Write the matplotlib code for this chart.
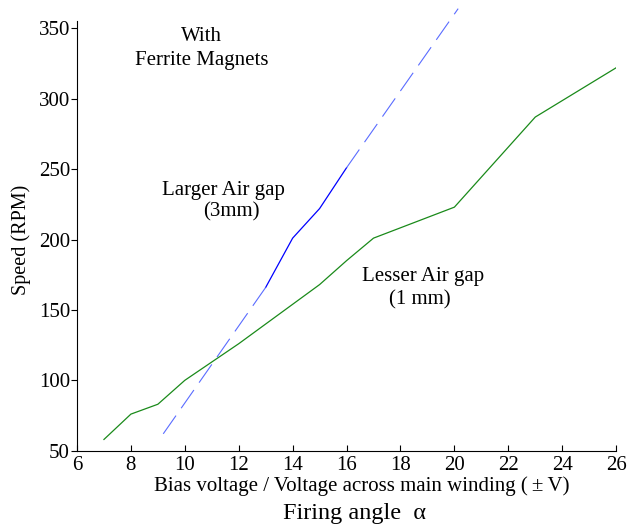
import numpy as np
import matplotlib.pyplot as plt

plt.rcParams['font.family'] = ['Liberation Serif', 'DejaVu Serif']
plt.rcParams['lines.scale_dashes'] = False

# lesser air gap (1 mm)
volts_small_gap = [7, 8, 9, 10, 11, 12, 13, 14, 15, 16, 17, 20, 23, 26]
speed_small_gap = [58, 76, 83, 100, 113, 126, 140, 154, 168, 185, 201, 223, 287, 322]

# larger air gap (3 mm), measured part
volts_large_gap = [13, 14, 15, 16]
speed_large_gap = [166, 201, 222, 251]

# extrapolated parts of the 3 mm curve
volts_ext_low = [9.2, 13]
speed_ext_low = [62, 166]
volts_ext_high = [16, 20.14]
speed_ext_high = [251, 364]

xticks = [6, 8, 10, 12, 14, 16, 18, 20, 22, 24, 26]
yticks = [50, 100, 150, 200, 250, 300, 350]

fig = plt.figure(figsize=(6.28, 5.29), dpi=100)
ax = fig.add_axes([0.1226, 0.148, 0.8585, 0.8117])

ax.plot(volts_small_gap, speed_small_gap, color='#1a8a1a', lw=0.9)
ax.plot(volts_large_gap, speed_large_gap, color='#0000ff', lw=0.9)
for xs, ys in [(volts_ext_low, speed_ext_low), (volts_ext_high, speed_ext_high)]:
    ax.plot(xs, ys, color='#5a6cff', lw=0.8, dashes=(16, 6.5), clip_on=False)

ax.set_xlim(6, 26)
ax.set_ylim(50, 355)
ax.set_xticks(xticks)
ax.set_yticks(yticks)
ax.spines['top'].set_visible(False)
ax.spines['right'].set_visible(False)
ax.tick_params(axis='x', direction='in', length=4, labelsize=15, pad=4)
ax.tick_params(axis='y', direction='out', length=4, labelsize=15, pad=1)

ax.set_ylabel('Speed (RPM)', fontsize=14.5)
ax.yaxis.set_label_coords(-0.085, 0.49)
ax.set_xlabel('Bias voltage / Voltage across main winding (\u2009\u00b1\u2009V)', fontsize=15)
ax.xaxis.set_label_coords(0.528, -0.06)

fig.text(0.565, 0.03, 'Firing angle  \u03b1', fontsize=17.5, ha='center', va='center')

txt = dict(fontsize=15, ha='center', va='center')
ax.text(10.63, 344, 'With', **txt)
ax.text(10.64, 327, 'Ferrite Magnets', **txt)
ax.text(11.43, 235, 'Larger Air gap', **txt)
ax.text(11.74, 219.5, '(3mm)', **txt)
ax.text(18.85, 173.5, 'Lesser Air gap', **txt)
ax.text(18.73, 157, '(1 mm)', **txt)

fig.savefig('out.png', dpi=100)
